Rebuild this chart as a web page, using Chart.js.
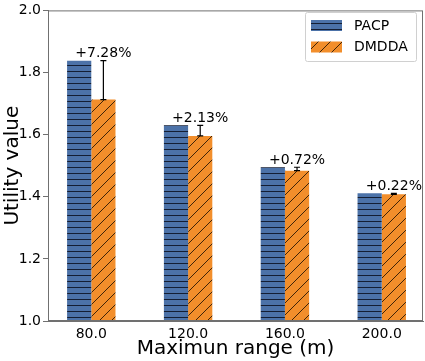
<!DOCTYPE html>
<html>
<head>
<meta charset="utf-8">
<script src="https://cdn.jsdelivr.net/npm/chart.js@4"></script>
<style>
  html, body { margin: 0; padding: 0; background: #fff; }
  #wrap { width: 425px; height: 361px; }
</style>
</head>
<body>
<div id="wrap"><canvas id="chart" width="425" height="361"></canvas></div>
<script>
// values
const ranges = ['80.0', '120.0', '160.0', '200.0'];
const pacp = [1.838, 1.630, 1.495, 1.411];
const dmdda = [1.713, 1.596, 1.484, 1.408];
const gains = ['+7.28%', '+2.13%', '+0.72%', '+0.22%'];
const yTicks = [1.0, 1.2, 1.4, 1.6, 1.8, 2.0];

const FONT = "'DejaVu Sans', sans-serif";
const BLUE = '#4c72a8';
const ORANGE = '#f28e2b';
const FRAME = '#707070';

// hatch fills
function hLines() {
    const c = document.createElement('canvas');
    c.width = 6; c.height = 6;
    const g = c.getContext('2d');
    g.fillStyle = BLUE;
    g.fillRect(0, 0, 6, 6);
    g.fillStyle = 'rgba(10,15,30,0.85)';
    g.fillRect(0, 5, 6, 1);
    return g.createPattern(c, 'repeat');
}
function diagLines() {
    const c = document.createElement('canvas');
    c.width = 12; c.height = 12;
    const g = c.getContext('2d');
    g.fillStyle = ORANGE;
    g.fillRect(0, 0, 12, 12);
    g.strokeStyle = 'rgba(20,10,0,0.8)';
    g.lineWidth = 1;
    g.beginPath();
    g.moveTo(-1, 13); g.lineTo(13, -1);
    g.moveTo(-1, 1); g.lineTo(1, -1);
    g.moveTo(11, 13); g.lineTo(13, 11);
    g.stroke();
    return g.createPattern(c, 'repeat');
}
const bluePat = hLines();
const orangePat = diagLines();

const extras = {
    id: 'extras',
    afterDatasetsDraw(chart) {
        const ctx = chart.ctx;
        const y = chart.scales.y;
        const meta = chart.getDatasetMeta(1);
        ctx.save();
        // error bars from DMDDA up to PACP
        ctx.strokeStyle = '#000';
        ctx.lineWidth = 1.2;
        meta.data.forEach((bar, i) => {
            const cx = bar.x;
            const y0 = y.getPixelForValue(dmdda[i]);
            const y1 = y.getPixelForValue(pacp[i]);
            ctx.beginPath();
            ctx.moveTo(cx, y0); ctx.lineTo(cx, y1);
            ctx.moveTo(cx - 3, y0); ctx.lineTo(cx + 3, y0);
            ctx.moveTo(cx - 3, y1); ctx.lineTo(cx + 3, y1);
            ctx.stroke();
            // gain labels
            ctx.fillStyle = '#000';
            ctx.font = '14px ' + FONT;
            ctx.textAlign = 'center';
            ctx.textBaseline = 'alphabetic';
            ctx.fillText(gains[i], cx, y1 - 3.5);
        });
        // frame
        const a = chart.chartArea;
        ctx.strokeStyle = FRAME;
        ctx.lineWidth = 1;
        ctx.strokeRect(a.left + 0.5, a.top + 0.5, a.right - a.left - 1, a.bottom - a.top - 1);
        // legend
        const lx = 305.5, ly = 12.5, lw = 111, lh = 49;
        ctx.fillStyle = 'rgba(255,255,255,0.8)';
        ctx.strokeStyle = '#d0d0d0';
        ctx.beginPath();
        ctx.roundRect(lx, ly, lw, lh, 2);
        ctx.fill(); ctx.stroke();
        chart.data.datasets.forEach((ds, k) => {
            const sy = 20 + k * 21.5;
            ctx.fillStyle = ds.backgroundColor;
            ctx.fillRect(311, sy, 31, 11);
            ctx.fillStyle = '#000';
            ctx.font = '14px ' + FONT;
            ctx.textAlign = 'left';
            ctx.textBaseline = 'middle';
            ctx.fillText(ds.label, 354, sy + 6);
        });
        ctx.restore();
    }
};

new Chart(document.getElementById('chart'), {
    type: 'bar',
    data: {
        datasets: [
            { label: 'PACP', data: pacp.map((v, i) => ({ x: i, y: v })), backgroundColor: bluePat, borderWidth: 0 },
            { label: 'DMDDA', data: dmdda.map((v, i) => ({ x: i, y: v })), backgroundColor: orangePat, borderWidth: 0 }
        ]
    },
    plugins: [extras],
    options: {
        responsive: false,
        animation: false,
        events: [],
        categoryPercentage: 0.5,
        barPercentage: 1.0,
        layout: { padding: { top: 7, right: 2, left: 0, bottom: 0 } },
        plugins: { legend: { display: false }, tooltip: { enabled: false } },
        scales: {
            x: {
                type: 'linear',
                offset: false,
                min: -0.447,
                max: 3.426,
                afterBuildTicks: s => { s.ticks = ranges.map((_, i) => ({ value: i })); },
                afterFit: s => { s.height = 40; },
                ticks: {
                    callback: v => ranges[v],
                    color: '#000',
                    font: { family: FONT, size: 14 },
                    padding: 5,
                    maxRotation: 0
                },
                grid: { display: true, drawOnChartArea: false, drawTicks: false, color: FRAME },
                border: { display: true, color: FRAME },
                title: {
                    display: true, text: 'Maximun range (m)', color: '#000',
                    font: { family: FONT, size: 20 }, padding: { top: 0, bottom: 0 }
                }
            },
            y: {
                min: 1.0,
                max: 2.0,
                afterBuildTicks: s => { s.ticks = yTicks.map(v => ({ value: v })); },
                afterFit: s => { s.width = 48; },
                ticks: {
                    callback: v => v.toFixed(1),
                    color: '#000',
                    font: { family: FONT, size: 14 },
                    padding: 2
                },
                grid: { display: true, drawOnChartArea: false, tickLength: 5, color: FRAME },
                border: { display: true, color: FRAME },
                title: {
                    display: true, text: 'Utility value', color: '#000',
                    font: { family: FONT, size: 20 }, padding: { top: 1, bottom: 2 }
                }
            }
        }
    }
});
</script>
</body>
</html>
